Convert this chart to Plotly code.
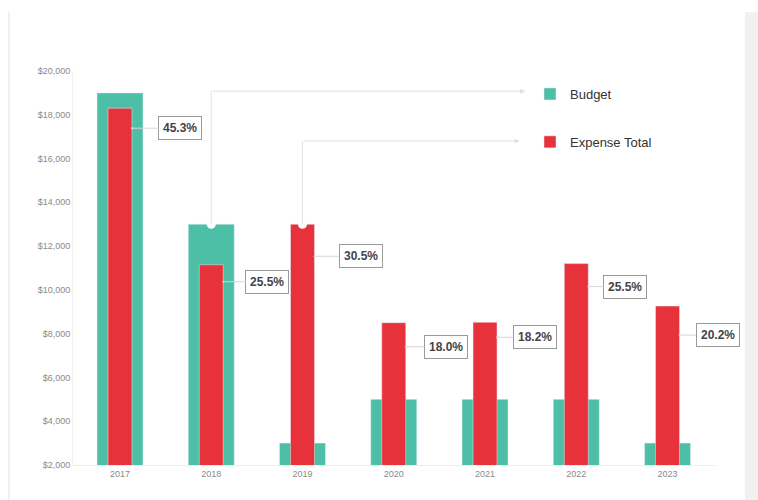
import plotly.graph_objects as go

# ---- data ----
years = ["2017", "2018", "2019", "2020", "2021", "2022", "2023"]
budget = [19000, 13000, 3000, 5000, 5000, 5000, 3000]
expense = [18300, 11150, 13000, 8500, 8520, 11200, 9260]
pct_labels = ["45.3%", "25.5%", "30.5%", "18.0%", "18.2%", "25.5%", "20.2%"]

# ---- styles / positions (not data) ----
TEAL = "#4DBFA6"
RED = "#E8323B"
FONT = "Liberation Sans, Arial, sans-serif"
label_drop_px = [20, 17, 32, 24, 15, 23, 29]   # dot below bar top, in px
label_dx_px = [48, 44, 46, 40, 38, 37, 38]
units_per_px = 18000 / 394
RED_W = 0.263

fig = go.Figure()
fig.add_trace(go.Bar(x=years, y=budget, name="Budget", marker_color=TEAL,
                     width=0.504, legendgroup="b", hoverinfo="x+y"))
fig.add_trace(go.Bar(x=years, y=expense, name="Expense Total", marker_color=RED,
                     width=RED_W, legendgroup="e", hoverinfo="x+y"))
# white dots where the legend connectors start
fig.add_trace(go.Scatter(x=[years[1], years[2]], y=[budget[1], expense[2]],
                         mode="markers", marker=dict(color="white", size=9),
                         showlegend=False, hoverinfo="skip"))

annotations = []
for i, lab in enumerate(pct_labels):
    annotations.append(dict(
        x=i + RED_W / 2, y=expense[i] - label_drop_px[i] * units_per_px,
        xref="x", yref="y", text=f"<b>{lab}</b>", showarrow=True,
        ax=label_dx_px[i], ay=0, arrowhead=6, arrowsize=0.5, arrowwidth=1,
        arrowcolor="#d6d6d6", bgcolor="white", bordercolor="#9a9a9a",
        borderwidth=1, borderpad=4, font=dict(family=FONT, size=12, color="#444")))

# connectors from bars to legend
conn = [(1, budget[1], 19080, 4.44), (2, expense[2], 16800, 4.38)]
shapes = []
for xi, y0, yl, xe in conn:
    shapes.append(dict(type="line", xref="x", yref="y", x0=xi, x1=xi, y0=y0, y1=yl,
                       line=dict(color="#e3e3e3", width=1)))
    annotations.append(dict(x=xe, y=yl, xref="x", yref="y", axref="x", ayref="y",
                            ax=xi, ay=yl, text="", showarrow=True, arrowhead=2,
                            arrowsize=1, arrowwidth=1, arrowcolor="#e0e0e0"))

# page frame: gray strip on right, faint left border
shapes.append(dict(type="rect", xref="paper", yref="paper", layer="below",
                   x0=(745 - 73) / 642, x1=(760 - 73) / 642,
                   y0=(465 - 502) / 394, y1=(465 - 12) / 394,
                   fillcolor="#f1f1f1", line=dict(width=0)))
shapes.append(dict(type="line", xref="paper", yref="paper", layer="below",
                   x0=(9 - 73) / 642, x1=(9 - 73) / 642,
                   y0=(465 - 502) / 394, y1=(465 - 12) / 394,
                   line=dict(color="#f0f0f0", width=2)))

fig.update_layout(
    width=758, height=500,
    margin=dict(l=73, r=43, t=71, b=35),
    paper_bgcolor="white", plot_bgcolor="white",
    barmode="overlay",
    font=dict(family=FONT),
    showlegend=True,
    legend=dict(x=(530 - 73) / 642, y=(465 - 79) / 394, xanchor="left", yanchor="top",
                font=dict(family=FONT, size=13, color="#333"),
                tracegroupgap=28, bgcolor="rgba(0,0,0,0)"),
    xaxis=dict(type="category", range=[-0.515, 6.52], showgrid=False,
               showline=True, linecolor="#ececec", linewidth=1, ticks="",
               tickfont=dict(family=FONT, size=9, color="#8a8a8a")),
    yaxis=dict(range=[2000, 20000], dtick=2000, tick0=2000, showgrid=False,
               zeroline=False, showline=True, linecolor="#f0f0f0",
               tickprefix="$", tickformat=",d", ticks="",
               tickfont=dict(family=FONT, size=9, color="#8a8a8a")),
    annotations=annotations, shapes=shapes,
)

fig.write_html("out.html")
